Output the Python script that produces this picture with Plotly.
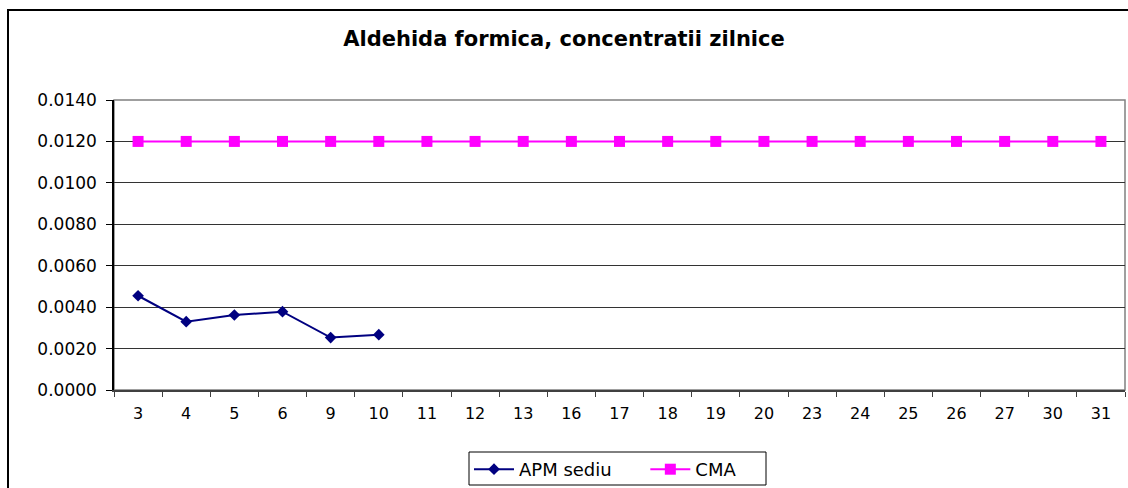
import plotly.graph_objects as go

categories = ["3", "4", "5", "6", "9", "10", "11", "12", "13", "16", "17",
              "18", "19", "20", "23", "24", "25", "26", "27", "30", "31"]
apm_sediu = [0.00455, 0.00330, 0.00362, 0.00378, 0.00253, 0.00267] + [None] * 15
cma = [0.012] * 21
y_ticks = [0.0, 0.002, 0.004, 0.006, 0.008, 0.010, 0.012, 0.014]
series_names = ["APM sediu", "CMA"]

W, H = 1128, 488
L, R, T, B = 114, 1125, 100, 390
NB = "\u00a0"

fig = go.Figure()
fig.add_trace(go.Scatter(
    x=categories, y=apm_sediu, name=series_names[0] + NB * 5, mode="lines+markers",
    line=dict(color="#000080", width=2),
    marker=dict(symbol="diamond", size=9, color="#000080"),
    connectgaps=False,
))
fig.add_trace(go.Scatter(
    x=categories, y=cma, name=series_names[1] + NB * 4, mode="lines+markers",
    line=dict(color="#FF00FF", width=2),
    marker=dict(symbol="square", size=11, color="#FF00FF"),
))

def px_to_paper_x(px):
    return (px - L) / (R - L)

def px_to_paper_y(py):
    return (B - py) / (B - T)

shapes = [
    dict(type="rect", xref="paper", yref="paper", x0=0, x1=1, y0=0, y1=1,
         line=dict(color="#808080", width=1.5), layer="below"),
    dict(type="rect", xref="paper", yref="paper",
         x0=px_to_paper_x(8), x1=px_to_paper_x(1160),
         y0=px_to_paper_y(520), y1=px_to_paper_y(10),
         line=dict(color="#000000", width=2)),
    # legend frame
    dict(type="rect", xref="paper", yref="paper",
         x0=px_to_paper_x(469), x1=px_to_paper_x(766),
         y0=px_to_paper_y(485), y1=px_to_paper_y(452),
         line=dict(color="#000000", width=1)),
]

fig.update_layout(
    width=W, height=H,
    margin=dict(l=L, r=W - R, t=T, b=H - B),
    paper_bgcolor="white", plot_bgcolor="white",
    font=dict(family="DejaVu Sans, Arial", size=16, color="#000000"),
    title=dict(text="<b>Aldehida formica, concentratii zilnice</b>",
               x=0.5, xref="container", xanchor="center",
               y=1 - 39 / H, yref="container", yanchor="middle",
               font=dict(family="DejaVu Sans, Arial", size=21, color="#000000")),
    showlegend=True,
    legend=dict(orientation="h", xref="container", yref="container",
                x=469 / W, y=1 - 451 / H, xanchor="left", yanchor="top",
                bgcolor="rgba(0,0,0,0)", borderwidth=0,
                font=dict(family="DejaVu Sans, Arial", size=18),
                itemwidth=40, tracegroupgap=0),
    shapes=shapes,
)
fig.update_xaxes(
    type="category", categoryorder="array", categoryarray=categories,
    showgrid=False, showline=True, linecolor="#404040", linewidth=1.5,
    ticks="outside", tickson="boundaries", ticklen=5, tickcolor="#404040",
    tickfont=dict(family="DejaVu Sans, Arial", size=16),
    ticklabelstandoff=8, range=[-0.5, 20.5], zeroline=False,
)
fig.update_yaxes(
    range=[0, 0.014], tickvals=y_ticks, tickformat=".4f",
    showgrid=True, gridcolor="#333333", gridwidth=1,
    showline=True, linecolor="#000000", linewidth=1.5,
    ticks="outside", ticklen=6, tickcolor="#000000",
    tickfont=dict(family="DejaVu Sans, Arial", size=17),
    ticklabelstandoff=6, zeroline=False,
)

fig.write_html("out.html", config={"displayModeBar": False},
               post_script="document.body.style.margin='0';document.body.style.overflow='hidden';")
